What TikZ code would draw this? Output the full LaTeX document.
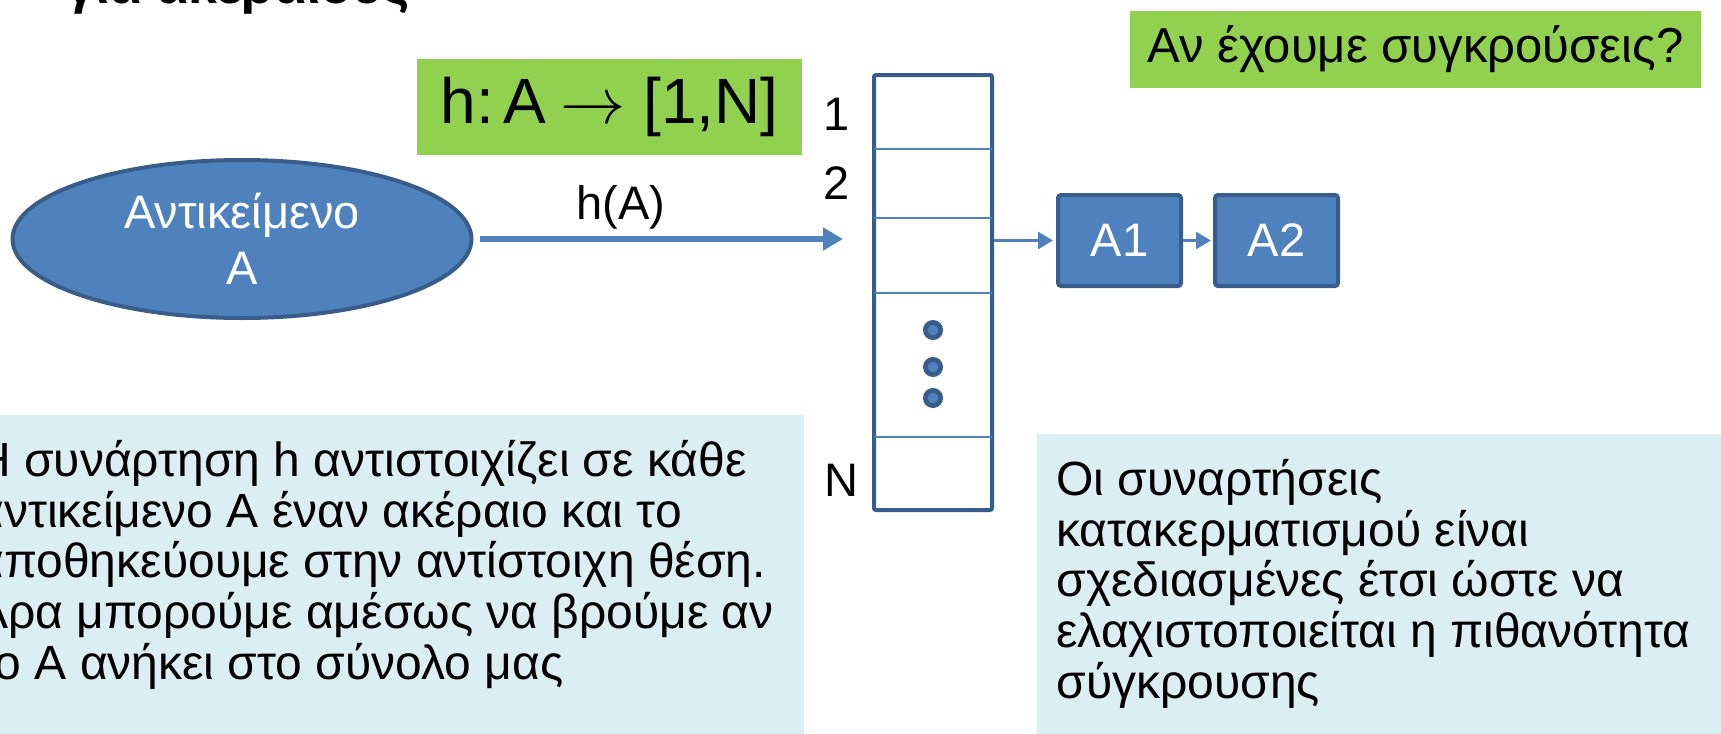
\documentclass[tikz,border=0pt]{standalone}
\usepackage{fontspec}
\setmainfont{Liberation Sans}
\newcommand\notefont{\fontsize{24}{25.35}\selectfont\lineskiplimit=-100pt\relax}
\usetikzlibrary{shapes.geometric,arrows.meta}
\definecolor{accent}{HTML}{4F81BD}
\definecolor{accentdark}{HTML}{385D8A}
\definecolor{keygreen}{HTML}{92D050}
\definecolor{notebg}{HTML}{DBEEF4}
\tikzset{
  blob/.style={ellipse, fill=accent, draw=accentdark, line width=2pt, text=white,
    inner sep=0, minimum width=229.5pt, minimum height=79pt, align=center,
    font=\fontsize{23.5}{28}\selectfont},
  cellbox/.style={rectangle, fill=accent, draw=accentdark, line width=2pt,
    rounded corners=1.5pt, text=white, minimum width=61.5pt, minimum height=45.5pt,
    inner sep=0, font=\fontsize{23.5}{28}\selectfont},
  bucketcol/.style={rectangle, draw=accentdark, line width=2pt, rounded corners=1pt,
    minimum width=59pt, minimum height=217.5pt, inner sep=0},
  divider/.style={accent, line width=1.4pt, shorten <=1pt, shorten >=1pt},
  ellipsisdot/.style={circle, fill=accent, draw=accentdark, line width=2.4pt,
    minimum size=7.6pt, inner sep=0},
  idx/.style={inner sep=0, font=\fontsize{23.5}{28}\selectfont},
  tag/.style={fill=keygreen, inner sep=0},
  note/.style={fill=notebg, inner sep=0},
  notetext/.style={anchor=north west, inner sep=0, align=left, font=\notefont},
  bigarrow/.style={accent, line width=3pt, -{Triangle[length=10pt,width=11pt]}},
  smallarrow/.style={accent, line width=1.3pt, -{Triangle[length=7.5pt,width=8.5pt]}},
}
\begin{document}
\begin{tikzpicture}[x=0.5pt, y=-0.5pt]
\useasboundingbox (0,0) rectangle (1721,734);
\clip (0,0) rectangle (1721,734);

% last line of the heading, running off the top edge
\node[anchor=base west, inner sep=0, font=\bfseries\fontsize{26}{30}\selectfont] (title) at (66,3) {για ακεραίους};

% explanatory notes
\node[note, anchor=north east, minimum width=430pt, minimum height=170pt] (leftnote) at (804,415) {};
\node[note, anchor=north west, minimum width=350pt, minimum height=160pt] (rightnote) at (1037,434) {};
\node[notetext] (lefttext) at (-24,440) {Η συνάρτηση h αντιστοιχίζει σε κάθε\\
αντικείμενο Α έναν ακέραιο και το\\
αποθηκεύουμε στην αντίστοιχη θέση.\\
Άρα μπορούμε αμέσως να βρούμε αν\\
το Α ανήκει στο σύνολο μας};
\node[notetext] (righttext) at (1056,459) {Οι συναρτήσεις\\
κατακερματισμού είναι\\
σχεδιασμένες έτσι ώστε να\\
ελαχιστοποιείται η πιθανότητα\\
σύγκρουσης};

% green labels
\node[tag, minimum width=192.5pt, minimum height=48pt, font=\fontsize{32}{36}\selectfont] (hdef) at (609.5,107)
  {h:\hspace{5pt}A\hspace{7pt}\resizebox{32.6pt}{!}{$\rightarrow$}\hspace{8.8pt}[1,N]};
\node[tag, minimum width=285.5pt, minimum height=38.5pt, font=\fontsize{24.5}{28}\selectfont] (question) at (1415.5,49.5) {Αν έχουμε συγκρούσεις?};

% object
\node[blob] (obj) at (242,239) {Αντικείμενο\\A};

% hash table column
\node[bucketcol] (tbl) at (933,292.5) {};
\foreach \yy in {149,218,293,437}
  \draw[divider] (tbl.west |- 0,\yy) -- (tbl.east |- 0,\yy);
\node[ellipsisdot] (d1) at (933,330) {};
\node[ellipsisdot] (d2) at (933,367) {};
\node[ellipsisdot] (d3) at (933,398) {};
\node[idx] (i1) at (837,114) {1};
\node[idx] (i2) at (837,183) {2};
\node[idx] (iN) at (841,480) {N};

% chained entries
\node[cellbox] (a1) at (1119.5,240.5) {A1};
\node[cellbox] (a2) at (1276.5,240.5) {A2};

% connectors
\node[idx] (hA) at (621,207) {h(A)};
\draw[bigarrow, shorten <=3pt, shorten >=14.5pt] (obj.east) -- (obj.east -| tbl.west);
\draw[smallarrow, shorten >=1.5pt] (tbl.east |- a1.west) -- (a1.west);
\draw[smallarrow, shorten >=1pt] (a1.east) -- (a2.west);
\end{tikzpicture}
\end{document}
